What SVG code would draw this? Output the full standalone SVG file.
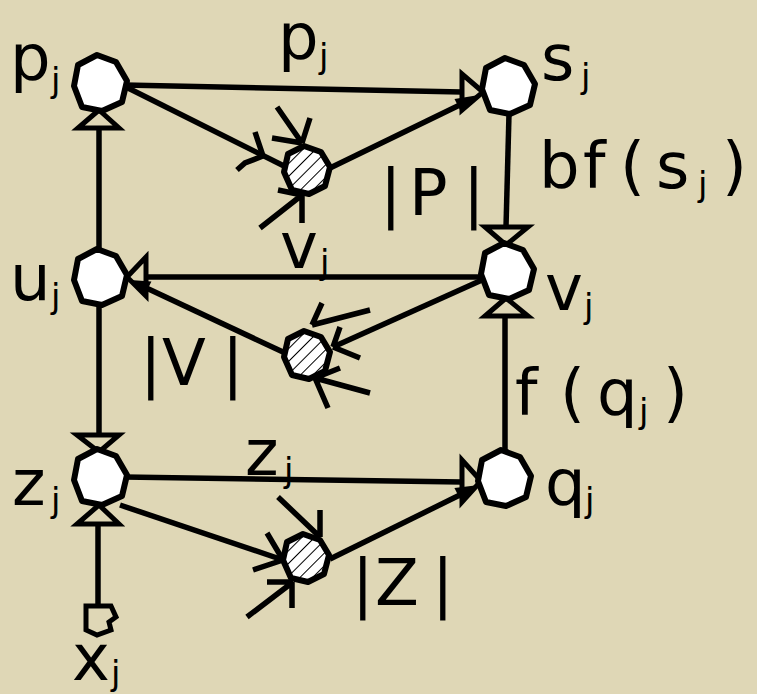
<svg xmlns="http://www.w3.org/2000/svg" xmlns:xlink="http://www.w3.org/1999/xlink" width="757" height="694" viewBox="0 0 757 694">
<defs>
<style>
.ln{stroke:#000;stroke-width:5.5;fill:none;stroke-linecap:butt;stroke-linejoin:miter}
.tri{stroke:#000;stroke-width:5;fill:none;stroke-linejoin:miter}
.wedge{fill:#000;stroke:none}
.node{fill:#fff;stroke:#000;stroke-width:6;stroke-linejoin:round}
.hnode{fill:url(#hatch);stroke:#000;stroke-width:6;stroke-linejoin:round}
.t{font-family:"DejaVu Sans","Liberation Sans",sans-serif;font-size:64px;fill:#000}
.s{font-family:"DejaVu Sans","Liberation Sans",sans-serif;font-size:34px;fill:#000}
</style>
<pattern id="hatch" patternUnits="userSpaceOnUse" width="9" height="9" patternTransform="rotate(45)">
<rect width="9" height="9" fill="#fff"/>
<line x1="0" y1="0" x2="0" y2="9" stroke="#000" stroke-width="2"/>
</pattern>
<polygon id="oct" points="-3,-29 16,-22 27,-3 22,18 2,27 -18,23 -26,2 -22,-19"/>
<polygon id="hoct" points="-3,-24 14,-18 23,-3 18,16 2,24 -15,20 -23,2 -19,-16"/>
</defs>
<rect width="757" height="694" fill="#DFD7B6"/>

<g id="connectors">
<line class="ln" x1="124" y1="85" x2="462" y2="92"/>
<polygon class="tri" points="483,92 462,74 462,110"/>
<line class="ln" x1="124" y1="86" x2="284" y2="166"/>
<polyline class="ln" points="255,132 263,156 245,163 237,170"/>
<path class="ln" d="M277,107 L302,143 M310,118 L302,143 M272,138 L302,143"/>
<path class="ln" d="M260,228 L302,195 M278,190 L302,195 M302,195 L302,223"/>
<line class="ln" x1="330" y1="168" x2="470" y2="100"/>
<polygon class="wedge" points="479,95 461.5,113 454.5,99"/>
<line class="ln" x1="509" y1="114" x2="506" y2="227"/>
<polygon class="tri" points="506,245 485,227 528,227"/>
<line class="ln" x1="481" y1="277" x2="146" y2="277"/>
<polygon class="tri" points="127,277 146,257 146,296"/>
<line class="ln" x1="482" y1="280" x2="333" y2="347"/>
<path class="ln" d="M322,303 L312,325 M370,310 L312,325"/>
<path class="ln" d="M340,327 L333,347 M333,347 L360,358"/>
<path class="ln" d="M340,368 L315,378 M370,393 L315,378 M315,378 L328,408"/>
<line class="ln" x1="283" y1="352" x2="140" y2="285"/>
<polygon class="wedge" points="130,280 151.4,281.4 144.6,295.8"/>
<line class="ln" x1="99" y1="254" x2="99" y2="128"/>
<polygon class="tri" points="99,110 78,128 119,128"/>
<line class="ln" x1="99" y1="304" x2="99" y2="435"/>
<polygon class="tri" points="99,452 77,435 119,435"/>
<line class="ln" x1="505" y1="455" x2="505" y2="316"/>
<polygon class="tri" points="506,298 485,316 528,316"/>
<line class="ln" x1="124" y1="477" x2="462" y2="482"/>
<polygon class="tri" points="481,481 462,460 462,502"/>
<line class="ln" x1="120" y1="505" x2="283" y2="560"/>
<path class="ln" d="M267,533 L283,560 M253,570 L283,560"/>
<path class="ln" d="M278,497 L320,537 M320,510 L320,537"/>
<path class="ln" d="M267,582 L293,582 M292,582 L292,608 M247,617 L293,582"/>
<line class="ln" x1="330" y1="559" x2="470" y2="490"/>
<polygon class="wedge" points="479,485 461.6,502 454.4,488"/>
<line class="ln" x1="98" y1="605" x2="98" y2="524"/>
<polygon class="tri" points="99,505 77,524 119,524"/>
</g>

<g id="node-pj"><use xlink:href="#oct" class="node" x="100" y="84"/></g>
<g id="node-sj"><use xlink:href="#oct" class="node" x="508" y="87"/></g>
<g id="node-uj"><use xlink:href="#oct" class="node" x="100" y="278"/></g>
<g id="node-vj"><use xlink:href="#oct" class="node" x="507" y="272"/></g>
<g id="node-zj"><use xlink:href="#oct" class="node" x="100" y="478"/></g>
<g id="node-qj"><use xlink:href="#oct" class="node" x="504" y="479"/></g>
<g id="node-h1"><use xlink:href="#hoct" class="hnode" x="307" y="170"/></g>
<g id="node-h2"><use xlink:href="#hoct" class="hnode" x="307" y="355"/></g>
<g id="node-h3"><use xlink:href="#hoct" class="hnode" x="306" y="558"/></g>
<g id="node-xj"><polygon points="86,606 111,606 116,617 109,622 111,630 97,635 86,630" fill="none" stroke="#000" stroke-width="5"/></g>

<g id="labels">
<text class="t" x="10" y="80">p</text><text class="s" x="51" y="92">j</text>
<text class="t" x="278" y="59">p</text><text class="s" x="319" y="68">j</text>
<text class="t" x="541" y="80">s</text><text class="s" x="581" y="88">j</text>
<text class="t" x="539 583 620 656" y="188">bf(s</text><text class="s" x="698" y="196">j</text><text class="t" x="722" y="188">)</text>
<text class="t" x="380 409 463" y="215">|P|</text>
<text class="t" x="280" y="268">v</text><text class="s" x="320" y="274">j</text>
<text class="t" x="10" y="300">u</text><text class="s" x="51" y="308">j</text>
<text class="t" x="545" y="310">v</text><text class="s" x="584" y="318">j</text>
<text class="t" x="140 162 222" y="385">|V|</text>
<text class="t" x="515 560 597" y="415">f(q</text><text class="s" x="639" y="423">j</text><text class="t" x="663" y="415">)</text>
<text class="t" x="12" y="505">z</text><text class="s" x="51" y="512">j</text>
<text class="t" x="245" y="475">z</text><text class="s" x="284" y="482">j</text>
<text class="t" x="545" y="505">q</text><text class="s" x="585" y="512">j</text>
<text class="t" x="352 375 432" y="605">|Z|</text>
<text class="t" x="72" y="680">x</text><text class="s" x="111" y="685">j</text>
</g>
</svg>
